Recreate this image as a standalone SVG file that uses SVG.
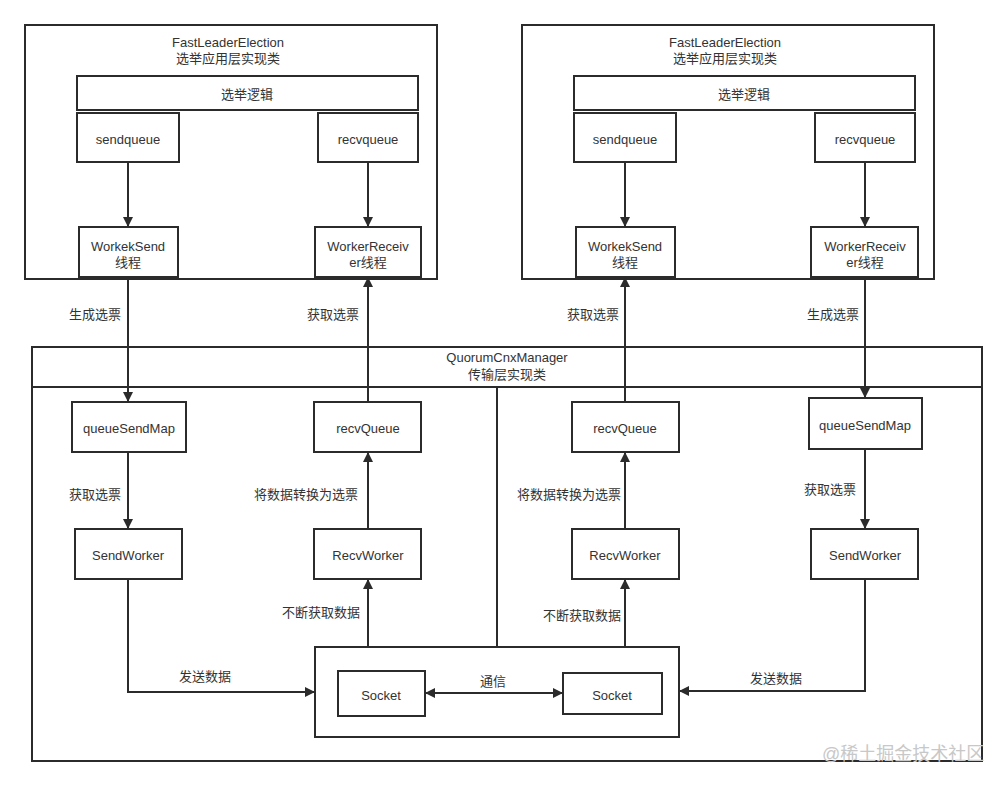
<svg xmlns="http://www.w3.org/2000/svg" width="1007" height="786" viewBox="0 0 1007 786">
<style>
rect{fill:#fff;stroke:#2b2b2b;stroke-width:2}
text{font-family:"Liberation Sans","Noto Sans CJK SC",sans-serif;font-size:13px;fill:#333;text-anchor:middle}
.c path,.c line,.c polyline{fill:none;stroke:#2b2b2b;stroke-width:2}
.wm{fill:#c8c8c8;font-size:18px;text-anchor:start}
</style>
<defs>
<marker id="ah" viewBox="0 0 10 10" refX="10" refY="5" markerWidth="10" markerHeight="10" markerUnits="userSpaceOnUse" orient="auto-start-reverse">
<path d="M0,0 L10,5 L0,10 z" fill="#2b2b2b"/>
</marker>
</defs>
<rect width="1007" height="786" style="fill:#fff;stroke:none"/>
<g id="fle-left">
<rect x="25" y="25" width="412" height="254"/>
<text x="228" y="47">FastLeaderElection</text>
<text x="228" y="63">选举应用层实现类</text>
</g>
<g id="logic-left"><rect x="77" y="76" width="341" height="34"/><text x="247" y="99">选举逻辑</text></g>
<g id="sendqueue-left"><rect x="77" y="113" width="102" height="49"/><text x="128" y="144">sendqueue</text></g>
<g id="recvqueue-left"><rect x="318" y="113" width="100" height="49"/><text x="368" y="144">recvqueue</text></g>
<g id="workeksend-left"><rect x="79" y="227" width="99" height="50"/><text x="128" y="251">WorkekSend</text><text x="128" y="267">线程</text></g>
<g id="workerreceiver-left"><rect x="315" y="227" width="106" height="50"/><text x="368" y="251">WorkerReceiv</text><text x="368" y="267">er线程</text></g>

<g id="fle-right">
<rect x="522" y="25" width="412" height="254"/>
<text x="725" y="47">FastLeaderElection</text>
<text x="725" y="63">选举应用层实现类</text>
</g>
<g id="logic-right"><rect x="574" y="76" width="341" height="34"/><text x="744" y="99">选举逻辑</text></g>
<g id="sendqueue-right"><rect x="574" y="113" width="102" height="49"/><text x="625" y="144">sendqueue</text></g>
<g id="recvqueue-right"><rect x="815" y="113" width="100" height="49"/><text x="865" y="144">recvqueue</text></g>
<g id="workeksend-right"><rect x="576" y="227" width="99" height="50"/><text x="625" y="251">WorkekSend</text><text x="625" y="267">线程</text></g>
<g id="workerreceiver-right"><rect x="811" y="227" width="107" height="50"/><text x="865" y="251">WorkerReceiv</text><text x="865" y="267">er线程</text></g>

<g id="qcm">
<rect x="32" y="347" width="950" height="414"/>
<line x1="32" y1="387" x2="982" y2="387" stroke="#2b2b2b" stroke-width="2"/>
<text x="507" y="362">QuorumCnxManager</text>
<text x="507" y="379">传输层实现类</text>
</g>
<g id="queuesendmap-left"><rect x="72" y="402" width="114" height="50"/><text x="129" y="433">queueSendMap</text></g>
<g id="recvqueue2-left"><rect x="314" y="402" width="107" height="50"/><text x="368" y="433">recvQueue</text></g>
<g id="sendworker-left"><rect x="75" y="529" width="107" height="50"/><text x="128" y="560">SendWorker</text></g>
<g id="recvworker-left"><rect x="314" y="529" width="107" height="50"/><text x="368" y="560">RecvWorker</text></g>
<g id="recvqueue2-right"><rect x="572" y="402" width="107" height="50"/><text x="625" y="433">recvQueue</text></g>
<g id="queuesendmap-right"><rect x="809" y="398" width="113" height="51"/><text x="865" y="430">queueSendMap</text></g>
<g id="recvworker-right"><rect x="572" y="529" width="107" height="50"/><text x="625" y="560">RecvWorker</text></g>
<g id="sendworker-right"><rect x="811" y="529" width="107" height="50"/><text x="865" y="560">SendWorker</text></g>
<g id="socket-box"><rect x="315" y="647" width="364" height="90"/></g>
<g id="socket-left"><rect x="338" y="671" width="87" height="45"/><text x="381" y="700">Socket</text></g>
<g id="socket-right"><rect x="563" y="673" width="99" height="41"/><text x="612" y="700">Socket</text></g>

<g id="connectors" class="c">
<line x1="128" y1="162" x2="128" y2="227" marker-end="url(#ah)"/>
<line x1="368" y1="162" x2="368" y2="227" marker-end="url(#ah)"/>
<line x1="625" y1="162" x2="625" y2="227" marker-end="url(#ah)"/>
<line x1="865" y1="162" x2="865" y2="227" marker-end="url(#ah)"/>
<line x1="128" y1="277" x2="128" y2="402" marker-end="url(#ah)"/>
<line x1="368" y1="402" x2="368" y2="277" marker-end="url(#ah)"/>
<line x1="625" y1="402" x2="625" y2="277" marker-end="url(#ah)"/>
<line x1="865" y1="277" x2="865" y2="398" marker-end="url(#ah)"/>
<line x1="128" y1="452" x2="128" y2="529" marker-end="url(#ah)"/>
<line x1="368" y1="529" x2="368" y2="452" marker-end="url(#ah)"/>
<line x1="625" y1="529" x2="625" y2="452" marker-end="url(#ah)"/>
<line x1="865" y1="449" x2="865" y2="529" marker-end="url(#ah)"/>
<line x1="368" y1="647" x2="368" y2="579" marker-end="url(#ah)"/>
<line x1="625" y1="647" x2="625" y2="579" marker-end="url(#ah)"/>
<polyline points="128,579 128,692 315,692" marker-end="url(#ah)"/>
<polyline points="865,579 865,691 679,691" marker-end="url(#ah)"/>
<line x1="425" y1="693" x2="563" y2="693" marker-start="url(#ah)" marker-end="url(#ah)"/>
<line x1="497" y1="387" x2="497" y2="647"/>
</g>
<g id="labels">
<text x="95" y="319">生成选票</text>
<text x="333" y="319">获取选票</text>
<text x="593" y="319">获取选票</text>
<text x="833" y="319">生成选票</text>
<text x="95" y="499">获取选票</text>
<text x="306" y="499">将数据转换为选票</text>
<text x="569" y="499">将数据转换为选票</text>
<text x="830" y="494">获取选票</text>
<text x="321" y="617">不断获取数据</text>
<text x="582" y="620">不断获取数据</text>
<text x="205" y="681">发送数据</text>
<text x="776" y="683">发送数据</text>
<text x="493" y="686">通信</text>
<text class="wm" x="822" y="760">@稀土掘金技术社区</text>
</g>
</svg>
